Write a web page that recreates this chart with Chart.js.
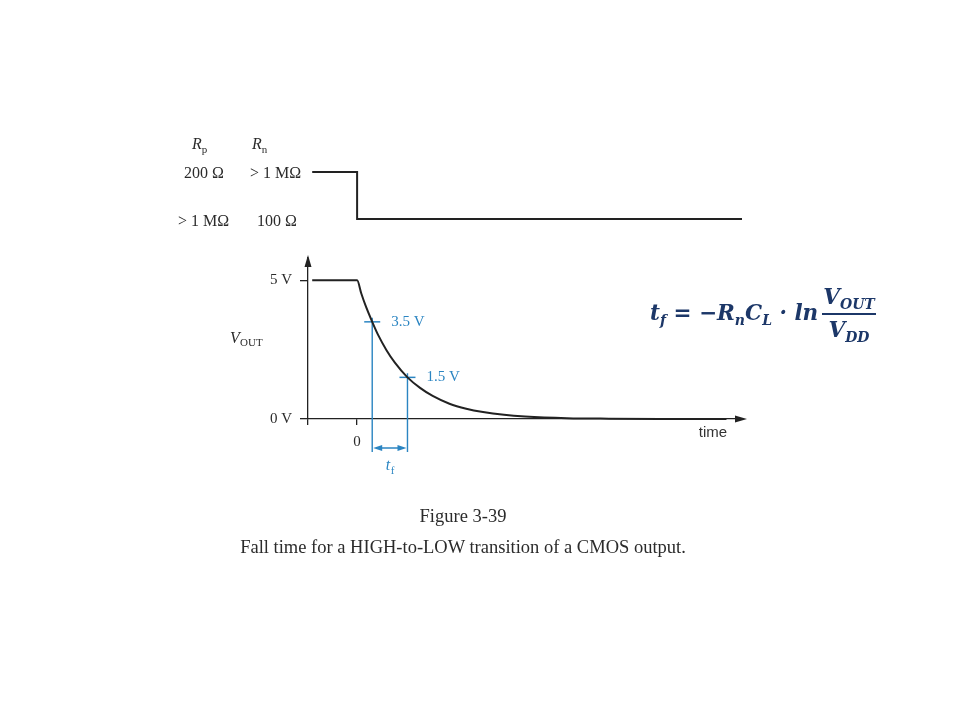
<!DOCTYPE html>
<html>
<head>
<meta charset="utf-8">
<script src="https://cdn.jsdelivr.net/npm/chart.js@4.4.1/dist/chart.umd.min.js"></script>
<style>
  html, body { margin: 0; padding: 0; background: #fff; }
  #page { position: relative; width: 960px; height: 720px; overflow: hidden;
          font-family: 'Liberation Serif', serif; color: #2b2b2b; }
  canvas { position: absolute; left: 0; top: 0; }
  .lbl { position: absolute; white-space: nowrap; font-size: 16px; line-height: 16px; }
  .lbl i { font-style: italic; }
  .lbl sub { font-size: 11px; vertical-align: -4px; line-height: 0; }
  #formula { position: absolute; left: 650px; top: 284px; white-space: nowrap;
             font: italic bold 21.5px 'DejaVu Serif', serif; color: #1c3768; line-height: 24px; }
  #formula sub { font-size: 14px; vertical-align: -5px; line-height: 0; }
  .frac { display: inline-block; vertical-align: middle; text-align: center; margin-left: 4px; }
  .frac .num { display: block; line-height: 26px; border-bottom: 2px solid #1c3768; padding: 0 1px 3px 1px; }
  .frac .den { display: block; line-height: 26px; padding-top: 2px; }
  .cap { position: absolute; left: 0; width: 926px; text-align: center; font-size: 18.5px; color: #2b2b2b; }
</style>
</head>
<body>
<div id="page">
  <canvas id="drive" width="960" height="720"></canvas>
  <canvas id="vout" width="960" height="720"></canvas>

  <div class="lbl" style="left:192px; top:136px;"><i>R</i><sub>p</sub></div>
  <div class="lbl" style="left:252px; top:136px;"><i>R</i><sub>n</sub></div>
  <div class="lbl" style="left:184px; top:165px;">200 Ω</div>
  <div class="lbl" style="left:250px; top:165px;">&gt; 1 MΩ</div>
  <div class="lbl" style="left:178px; top:213px;">&gt; 1 MΩ</div>
  <div class="lbl" style="left:257px; top:213px;">100 Ω</div>

  <div id="formula">t<sub>f</sub> = −R<sub>n</sub>C<sub>L</sub> · ln<span class="frac"><span class="num">V<sub>OUT</sub></span><span class="den">V<sub>DD</sub></span></span></div>

  <div class="cap" style="top:506px;">Figure 3-39</div>
  <div class="cap" style="top:537px;">Fall time for a HIGH-to-LOW transition of a CMOS output.</div>
</div>

<script>
// time axis in units of Rn*CL, t = 0 where the input switches
const xRange = [-1.17, 9.17];
const xTicks = [0];

// top trace: which transistor is on (1 = Rp 200 Ω, 0 = Rn 100 Ω)
const driveTime = [-1.07, 0, 0, 9.17];
const driveLevel = [1, 1, 0, 0];

// VOUT
const voutTime  = [-1.07, 0, 0.1, 0.2, 0.36, 0.5, 0.7, 0.9, 1.2, 1.5, 1.8, 2.2, 2.6, 3.0, 3.5, 4.0, 5.0, 6.0, 7.5, 8.8];
const voutVolts = [5, 5, 4.52, 4.09, 3.5, 3.03, 2.48, 2.03, 1.5, 1.12, 0.83, 0.55, 0.37, 0.25, 0.15, 0.09, 0.03, 0.012, 0.003, 0];
const yTicks = [0, 5];
const yMax = 5.8;

// tf markers
const markLevels = [3.5, 1.5];
const markTimes = [0.36, 1.2];
const guideOver = 0.15;
const guideFloor = -1.19;

const ink = '#222';
const blue = '#2b85c2';

const toPoints = (xs, ys) => xs.map((x, i) => ({ x, y: ys[i] }));

const arrow = (ctx, x, y, dir, len, half) => {
    // dir: 'up' | 'right' | 'left'
    ctx.beginPath();
    if (dir === 'up') {
        ctx.moveTo(x, y); ctx.lineTo(x - half, y + len); ctx.lineTo(x + half, y + len);
    } else if (dir === 'right') {
        ctx.moveTo(x, y); ctx.lineTo(x - len, y - half); ctx.lineTo(x - len, y + half);
    } else {
        ctx.moveTo(x, y); ctx.lineTo(x + len, y - half); ctx.lineTo(x + len, y + half);
    }
    ctx.closePath();
    ctx.fill();
}

const decorations = {
    id: 'decorations',
    afterDatasetsDraw(chart) {
        const { ctx, chartArea, scales: { x, y } } = chart;
        const y0 = y.getPixelForValue(0);
        ctx.save();

        // axis arrows
        ctx.fillStyle = ink;
        arrow(ctx, chartArea.left, chartArea.top - 3, 'up', 12, 3.5);
        arrow(ctx, chartArea.right + 5, y0, 'right', 12, 3.5);

        // tf dimension line
        const xa = x.getPixelForValue(markTimes[0]);
        const xb = x.getPixelForValue(markTimes[1]);
        const yd = y0 + 29;
        ctx.strokeStyle = blue;
        ctx.fillStyle = blue;
        ctx.lineWidth = 1.5;
        ctx.beginPath();
        ctx.moveTo(xa + 4, yd); ctx.lineTo(xb - 4, yd);
        ctx.stroke();
        arrow(ctx, xa + 1, yd, 'left', 9, 3);
        arrow(ctx, xb - 1, yd, 'right', 9, 3);

        // level labels
        ctx.font = '15px "Liberation Serif"';
        ctx.textBaseline = 'middle';
        ctx.textAlign = 'left';
        markLevels.forEach((v, i) => {
            ctx.fillText(v.toFixed(1) + ' V', x.getPixelForValue(markTimes[i]) + 19, y.getPixelForValue(v));
        });

        // t_f
        const tx = (xa + xb) / 2 - 4;
        ctx.font = 'italic 16px "Liberation Serif"';
        ctx.fillText('t', tx, yd + 18);
        ctx.font = '11px "Liberation Serif"';
        ctx.fillText('f', tx + 5, yd + 23);

        // V_OUT
        ctx.fillStyle = '#2b2b2b';
        const vx = chartArea.left - 78;
        const vy = y0 - 80;
        ctx.font = 'italic 16px "Liberation Serif"';
        ctx.fillText('V', vx, vy);
        ctx.font = '11px "Liberation Serif"';
        ctx.fillText('OUT', vx + 10, vy + 4);

        // time
        ctx.fillStyle = '#333';
        ctx.font = '15px "Liberation Sans"';
        ctx.textAlign = 'center';
        ctx.fillText('time', chartArea.right - 29, y0 + 14);

        ctx.restore();
    }
};

const baseOptions = {
    responsive: false,
    animation: false,
    events: [],
    plugins: { legend: { display: false }, tooltip: { enabled: false } }
};

// top: switch state
new Chart(document.getElementById('drive'), {
    type: 'scatter',
    data: {
        datasets: [{
            data: toPoints(driveTime, driveLevel),
            showLine: true,
            borderColor: ink,
            borderWidth: 2,
            pointRadius: 0,
            clip: false
        }]
    },
    options: {
        ...baseOptions,
        layout: { padding: { left: 308, right: 218, top: 172, bottom: 501 } },
        scales: {
            x: { type: 'linear', display: false, min: xRange[0], max: xRange[1] },
            y: { type: 'linear', display: false, min: 0, max: 1 }
        }
    }
});

// bottom: VOUT vs time
new Chart(document.getElementById('vout'), {
    type: 'scatter',
    data: {
        datasets: [
            {
                data: toPoints(voutTime, voutVolts),
                showLine: true,
                borderColor: ink,
                borderWidth: 2,
                pointRadius: 0,
                cubicInterpolationMode: 'monotone',
                clip: false
            },
            ...markTimes.map((t, i) => ({
                data: [{ x: t, y: markLevels[i] + guideOver }, { x: t, y: guideFloor }],
                showLine: true,
                borderColor: blue,
                borderWidth: 1.4,
                pointRadius: 0,
                clip: false
            })),
            {
                data: toPoints(markTimes, markLevels),
                showLine: false,
                pointStyle: 'line',
                pointRadius: 8,
                pointBorderWidth: 1.5,
                pointBorderColor: blue,
                clip: false
            }
        ]
    },
    options: {
        ...baseOptions,
        layout: { padding: { left: 258, right: 218, top: 258, bottom: 261 } },
        scales: {
            x: {
                type: 'linear',
                min: xRange[0],
                max: xRange[1],
                afterFit: (scale) => { scale.height = 40; },
                afterBuildTicks: (scale) => {
                    scale.ticks = [{ value: xRange[0] }, ...xTicks.map(value => ({ value }))];
                },
                grid: { drawOnChartArea: false, drawTicks: true, tickLength: 6, color: ink, lineWidth: 1.3 },
                border: { display: true, color: ink, width: 1.3 },
                ticks: {
                    padding: 8,
                    maxRotation: 0,
                    autoSkip: false,
                    color: '#2b2b2b',
                    font: { family: 'Liberation Serif', size: 15 },
                    callback: (v) => (v === xRange[0] ? '' : String(v))
                }
            },
            y: {
                type: 'linear',
                min: 0,
                max: yMax,
                afterFit: (scale) => { scale.width = 50; },
                afterBuildTicks: (scale) => {
                    scale.ticks = yTicks.map(value => ({ value }));
                },
                grid: { drawOnChartArea: false, drawTicks: true, tickLength: 8, color: ink, lineWidth: 1.3 },
                border: { display: true, color: ink, width: 1.3 },
                ticks: {
                    padding: 8,
                    autoSkip: false,
                    color: '#2b2b2b',
                    font: { family: 'Liberation Serif', size: 15 },
                    callback: (v) => v + ' V'
                }
            }
        }
    },
    plugins: [decorations]
});
</script>
</body>
</html>
